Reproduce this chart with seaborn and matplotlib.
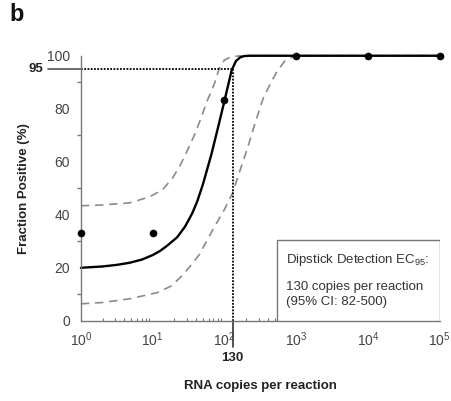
import numpy as np
import pandas as pd
import matplotlib
matplotlib.use("Agg")
import matplotlib.pyplot as plt
import matplotlib.ticker as mticker
from matplotlib.patches import Rectangle
import seaborn as sns

# ---- data ----
obs_copies = [1, 10, 100, 1000, 10000, 100000]
obs_positive = [33.3, 33.3, 83.3, 100, 100, 100]

fit_log = [0, 0.3, 0.5, 0.68, 0.85, 1.0, 1.1, 1.2, 1.34, 1.45, 1.55, 1.62, 1.70, 1.82, 1.92, 2.0, 2.1, 2.16, 2.22, 2.28, 2.35, 5.0]
fit_pos = [20.0, 20.5, 21.1, 21.9, 23.1, 24.8, 26.3, 28.3, 31.5, 35.5, 40.5, 45, 51.5, 63, 74, 83, 94.5, 98, 99.4, 99.9, 100, 100]

upper_log = [0, 0.3, 0.68, 0.96, 1.14, 1.28, 1.38, 1.47, 1.58, 1.66, 1.76, 1.86, 1.93, 2.0, 2.07, 2.15, 2.25, 5.0]
upper_pos = [43.4, 43.7, 44.5, 46.8, 49.5, 54, 58.5, 63.5, 70, 75.5, 83, 89.5, 95.5, 98.4, 99.3, 99.8, 100, 100]

lower_log = [0, 0.3, 0.68, 1.06, 1.25, 1.38, 1.52, 1.65, 1.83, 2.0, 2.11, 2.22, 2.32, 2.42, 2.54, 2.65, 2.73, 2.84, 2.95, 3.05, 5.0]
lower_pos = [6.4, 6.9, 8.3, 10.6, 13, 16.2, 20.5, 25, 34, 42, 48, 57, 65, 74, 84, 90, 94, 98, 99.5, 100, 100]

ec95 = 130
ec95_level = 95
yticks = [0, 20, 40, 60, 80, 100]
xticks = [1, 10, 100, 1000, 10000, 100000]

fit_df = pd.DataFrame({"copies": np.power(10.0, fit_log), "pos": fit_pos})
up_df = pd.DataFrame({"copies": np.power(10.0, upper_log), "pos": upper_pos})
lo_df = pd.DataFrame({"copies": np.power(10.0, lower_log), "pos": lower_pos})
obs_df = pd.DataFrame({"copies": obs_copies, "pos": obs_positive})

sns.set_style("white")
plt.rcParams["font.family"] = ["Liberation Sans", "DejaVu Sans"]
plt.rcParams["mathtext.default"] = "regular"

fig = plt.figure(figsize=(4.52, 4.01), dpi=100)
ax = fig.add_axes([0.179, 0.2, 0.794, 0.661])

grey = "#8a8a8a"
sns.lineplot(data=lo_df, x="copies", y="pos", ax=ax, color=grey, lw=1.2,
             dashes=False, sort=False, clip_on=False)
sns.lineplot(data=up_df, x="copies", y="pos", ax=ax, color=grey, lw=1.2,
             dashes=False, sort=False, clip_on=False)
for ln in ax.lines:
    ln.set_linestyle((0, (5, 3.5)))
sns.lineplot(data=fit_df, x="copies", y="pos", ax=ax, color="black", lw=1.7,
             sort=False, clip_on=False)
sns.scatterplot(data=obs_df, x="copies", y="pos", ax=ax, color="black", s=26,
                edgecolor="black", zorder=5, clip_on=False)

ax.set_xscale("log")
ax.set_xlim(1, 1e5)
ax.set_ylim(0, 100)

# EC95 reference lines
ax.plot([1, ec95], [ec95_level, ec95_level], color="black", lw=1.3, ls=(0, (1, 0.8)))
ax.plot([ec95, ec95], [0, ec95_level], color="black", lw=1.3, ls=(0, (1, 0.8)))
tr_y = ax.get_yaxis_transform()
tr_x = ax.get_xaxis_transform()
ax.plot([-0.092, 0], [ec95_level, ec95_level], color="#555555", lw=1.2,
        transform=tr_y, clip_on=False)
ax.plot([ec95, ec95], [0, -0.098], color="#333333", lw=1.2,
        transform=tr_x, clip_on=False)
ax.text(-0.105, ec95_level, "95", transform=tr_y, ha="right", va="center",
        fontsize=9.5, fontweight="bold", color="#222222")
ax.text(ec95, -0.14, "130", transform=tr_x, ha="center", va="center",
        fontsize=9.5, fontweight="bold", color="#222222")

# spines / ticks
for s in ["top", "right"]:
    ax.spines[s].set_visible(False)
for s in ["left", "bottom"]:
    ax.spines[s].set_color("#777777")
    ax.spines[s].set_linewidth(1.0)

ax.set_yticks(yticks)
ax.yaxis.set_minor_locator(mticker.MultipleLocator(10))
ax.set_xticks(xticks)
ax.xaxis.set_major_formatter(mticker.LogFormatterMathtext())
ax.xaxis.set_minor_locator(mticker.LogLocator(base=10, subs=np.arange(2, 10)))
ax.xaxis.set_minor_formatter(mticker.NullFormatter())
ax.tick_params(axis="y", which="major", direction="out", length=5, width=1, color="#777777",
               labelsize=10, labelcolor="#444444", pad=3)
ax.tick_params(axis="y", which="minor", direction="out", length=3, width=1, color="#777777", left=True)
ax.tick_params(axis="x", which="major", direction="in", length=4, width=1, color="#777777",
               labelsize=10, labelcolor="#444444", pad=7)
ax.tick_params(axis="x", which="minor", direction="in", length=2.5, width=0.8, color="#777777", bottom=True)

ax.set_xlabel("RNA copies per reaction", fontsize=9.5, fontweight="bold", color="#222222", labelpad=22)
ax.set_ylabel("Fraction Positive (%)", fontsize=9.5, fontweight="bold", color="#222222", labelpad=12)

# annotation box
ax.add_patch(Rectangle((0.546, 0.0), 0.454, 0.306, transform=ax.transAxes,
                       facecolor="white", edgecolor="#777777", lw=1.0, zorder=6))
ax.text(0.572, 0.23, "Dipstick Detection EC$_{95}$:", transform=ax.transAxes,
        fontsize=9.5, color="#333333", ha="left", va="center", zorder=7)
ax.text(0.572, 0.128, "130 copies per reaction", transform=ax.transAxes,
        fontsize=9.5, color="#333333", ha="left", va="center", zorder=7)
ax.text(0.572, 0.072, "(95% CI: 82-500)", transform=ax.transAxes,
        fontsize=9.5, color="#333333", ha="left", va="center", zorder=7)

fig.text(0.022, 0.965, "b", fontsize=17, fontweight="bold", color="#111111", ha="left", va="center")

fig.savefig("out.png", dpi=100)
